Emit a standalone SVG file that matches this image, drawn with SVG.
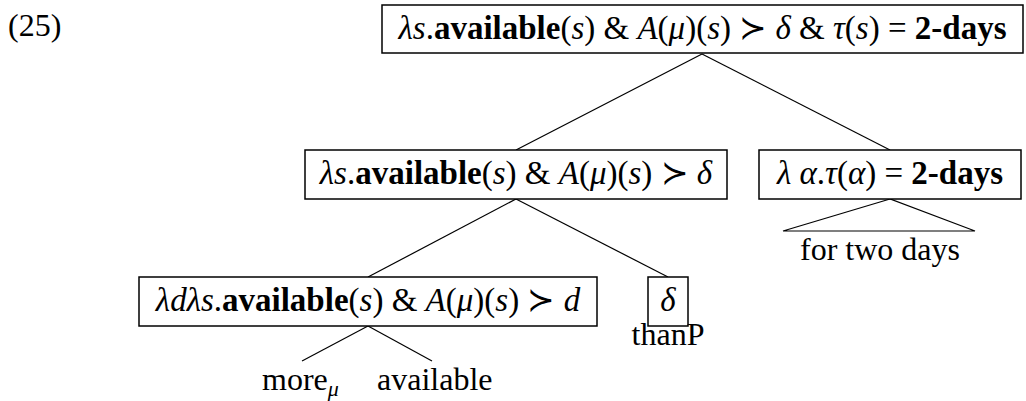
<svg xmlns="http://www.w3.org/2000/svg" width="1026" height="401" viewBox="0 0 1026 401">
<style>
.t{font-family:'Liberation Serif','Times New Roman',Tinos,serif;font-size:33px;fill:#000}
.s{font-size:32px}
.i{font-style:italic}
.b{font-weight:bold}
.box{fill:#fff;stroke:#000;stroke-width:1.5}
.ln{stroke:#000;stroke-width:1.2;fill:none}
</style>
<rect width="1026" height="401" fill="#fff"/>
<text class="t s" style="font-family:'Liberation Serif',serif" x="8" y="36">(25)</text>
<g id="connectors">
<line class="ln" x1="702" y1="54" x2="516" y2="150"/>
<line class="ln" x1="702" y1="54" x2="890" y2="150"/>
<line class="ln" x1="516" y1="199" x2="368" y2="277"/>
<line class="ln" x1="516" y1="199" x2="668" y2="277"/>
<polygon class="ln" points="890,199 783,231 975,231"/>
<line class="ln" x1="368" y1="326" x2="302" y2="361"/>
<line class="ln" x1="368" y1="326" x2="432" y2="361"/>
</g>
<g id="root">
<rect class="box" x="382" y="5" width="641" height="48"/>
<text class="t" style="font-family:'Liberation Serif',serif" x="702.5" y="39" text-anchor="middle"><tspan class="i">λs</tspan>.<tspan class="b">available</tspan>(<tspan class="i">s</tspan>) &amp; <tspan class="i">A</tspan>(<tspan class="i">μ</tspan>)(<tspan class="i">s</tspan>) ≻ <tspan class="i">δ</tspan> &amp; <tspan class="i">τ</tspan>(<tspan class="i">s</tspan>) = <tspan class="b">2-days</tspan></text>
</g>
<g id="n-left">
<rect class="box" x="305" y="150" width="422" height="49"/>
<text class="t" style="font-family:'Liberation Serif',serif" x="516" y="184" text-anchor="middle"><tspan class="i">λs</tspan>.<tspan class="b">available</tspan>(<tspan class="i">s</tspan>) &amp; <tspan class="i">A</tspan>(<tspan class="i">μ</tspan>)(<tspan class="i">s</tspan>) ≻ <tspan class="i">δ</tspan></text>
</g>
<g id="n-right">
<rect class="box" x="759" y="150" width="262" height="49"/>
<text class="t" style="font-family:'Liberation Serif',serif" x="890" y="184" text-anchor="middle"><tspan class="i">λ α</tspan>.<tspan class="i">τ</tspan>(<tspan class="i">α</tspan>) = <tspan class="b">2-days</tspan></text>
</g>
<g id="n-fortwodays">
<text class="t s" style="font-family:'Liberation Serif',serif" x="880" y="260" text-anchor="middle">for two days</text>
</g>
<g id="n-more">
<rect class="box" x="139" y="277" width="458" height="49"/>
<text class="t" style="font-family:'Liberation Serif',serif" x="368" y="311" text-anchor="middle"><tspan class="i">λdλs</tspan>.<tspan class="b">available</tspan>(<tspan class="i">s</tspan>) &amp; <tspan class="i">A</tspan>(<tspan class="i">μ</tspan>)(<tspan class="i">s</tspan>) ≻ <tspan class="i">d</tspan></text>
</g>
<g id="n-delta">
<rect class="box" x="648" y="277" width="40" height="49"/>
<text class="t i" style="font-family:'Liberation Serif',serif" x="668" y="311" text-anchor="middle">δ</text>
<text class="t s" style="font-family:'Liberation Serif',serif" x="668" y="345" text-anchor="middle">thanP</text>
</g>
<g id="n-leaves">
<text class="t s" style="font-family:'Liberation Serif',serif" x="262" y="390">more<tspan class="i" font-size="22" dy="6">μ</tspan></text>
<text class="t s" style="font-family:'Liberation Serif',serif" x="377" y="390">available</text>
</g>
</svg>
